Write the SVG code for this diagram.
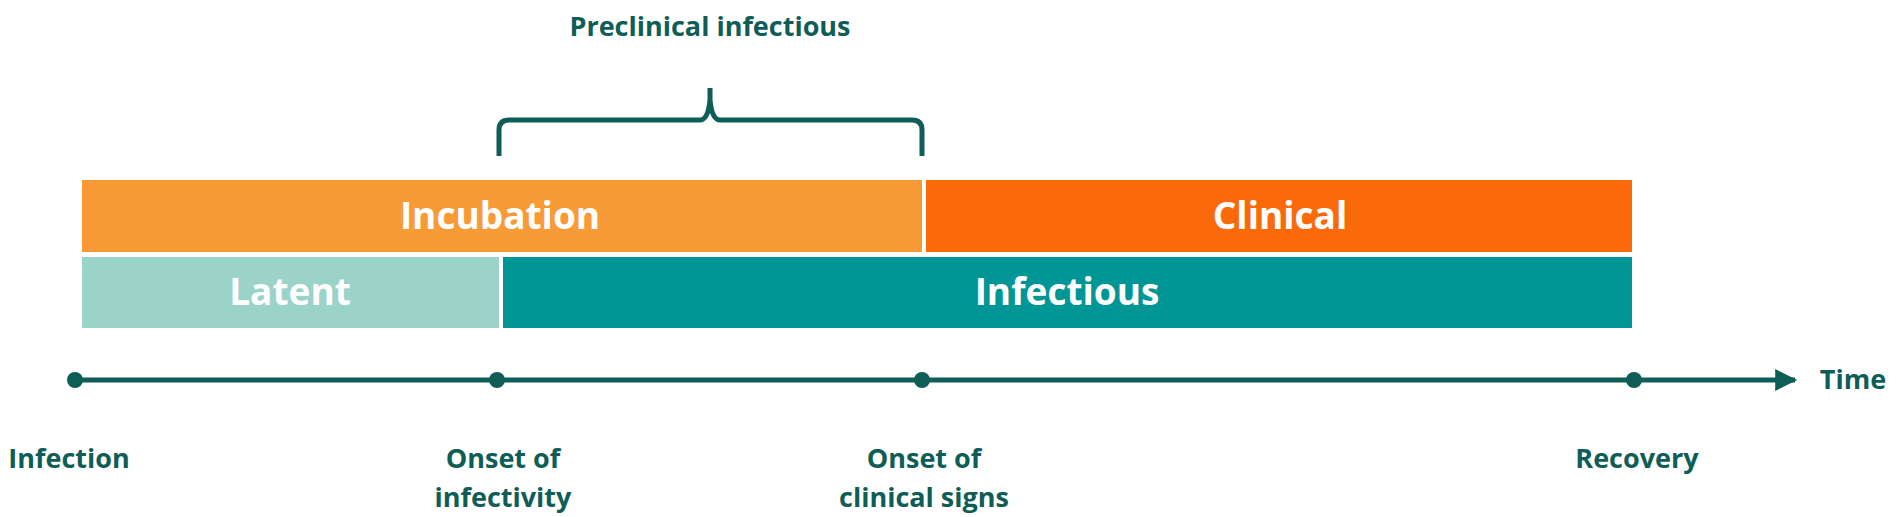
<svg xmlns="http://www.w3.org/2000/svg" width="1902" height="517" viewBox="0 0 1902 517">
<style>
.bar{font-family:"Open Sans","Liberation Sans",sans-serif;font-weight:bold;font-size:37px;fill:#fff;text-anchor:middle}
.lbl{font-family:"Open Sans","Liberation Sans",sans-serif;font-weight:bold;font-size:27px;fill:#0f5d57;text-anchor:middle}
.ln{stroke:#0f5d57;stroke-width:5;fill:none}
</style>
<defs><marker id="arr" viewBox="0 0 10 10" refX="9" refY="5" markerWidth="26" markerHeight="22" markerUnits="userSpaceOnUse" orient="auto"><path d="M0,0 L10,5 L0,10 Z" fill="#0f5d57"/></marker></defs>
<rect width="1902" height="517" fill="#fff"/>
<g id="incubation"><rect x="82" y="180" width="840" height="72" fill="#f89a35"/><text class="bar" x="500" y="229">Incubation</text></g>
<g id="clinical"><rect x="926" y="180" width="706" height="72" fill="#fa6a0a"/><text class="bar" x="1280" y="229">Clinical</text></g>
<g id="latent"><rect x="82" y="257" width="417" height="71" fill="#9bd3c9"/><text class="bar" x="290" y="305">Latent</text></g>
<g id="infectious"><rect x="503" y="257" width="1129" height="71" fill="#009696"/><text class="bar" x="1067" y="305">Infectious</text></g>
<g id="preclinical"><path class="ln" d="M499,156 V130 Q499,120 509,120 H700 Q708,120 710,100 V88 V100 Q712,120 720,120 H912 Q922,120 922,130 V156" stroke-width="4"/><text class="lbl" x="710" y="36">Preclinical infectious</text></g>
<g id="connectors"><line class="ln" x1="75" y1="380" x2="1795" y2="380" marker-end="url(#arr)"/></g>
<g id="infection"><circle cx="75" cy="380" r="8" fill="#0f5d57"/><text class="lbl" x="69" y="468">Infection</text></g>
<g id="onset-infectivity"><circle cx="497" cy="380" r="8" fill="#0f5d57"/><text class="lbl" x="503" y="468">Onset of</text><text class="lbl" x="503" y="507">infectivity</text></g>
<g id="onset-clinical"><circle cx="922" cy="380" r="8" fill="#0f5d57"/><text class="lbl" x="924" y="468">Onset of</text><text class="lbl" x="924" y="507">clinical signs</text></g>
<g id="recovery"><circle cx="1634" cy="380" r="8" fill="#0f5d57"/><text class="lbl" x="1637" y="468">Recovery</text></g>
<g id="time"><text class="lbl" x="1853" y="389">Time</text></g>
</svg>
